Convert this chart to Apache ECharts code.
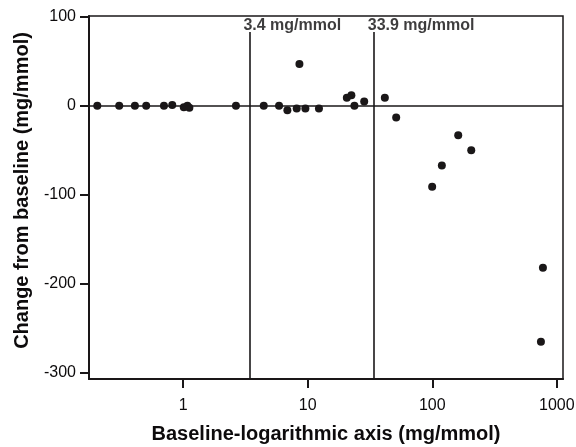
<!DOCTYPE html>
<html>
<head>
<meta charset="utf-8">
<script src="https://cdn.jsdelivr.net/npm/echarts@6/dist/echarts.min.js"></script>
<style>html,body{margin:0;padding:0;background:#fff;}#c{width:576px;height:447px;}</style>
</head>
<body>
<div id="c"></div>
<script>
const baseline = [0.204, 0.306, 0.409, 0.504, 0.70, 0.816, 1.01, 1.08, 1.12, 2.65, 4.43, 5.88, 6.86, 8.15, 8.57, 9.57, 12.3, 20.6, 22.4, 23.7, 28.4, 41.6, 51.3, 99.8, 119.4, 161.6, 205.6, 746, 774];
const change = [0, 0, 0, 0, 0, 1, -1.5, 0, -2, 0, 0, 0, -5, -3, 47, -3, -3, 9, 12, 0, 5, 9, -13, -91, -67, -33, -50, -265, -182];
const thresholds = [3.4, 33.9];
const thresholdLabels = ['3.4 mg/mmol', '33.9 mg/mmol'];
const xTicks = [1, 10, 100, 1000];
const yTicks = [-300, -200, -100, 0, 100];

const ink = '#1a1718';
const textInk = '#0d0b0c';
const font = 'Liberation Sans, Arial, Helvetica, sans-serif';
const chart = echarts.init(document.getElementById('c'));
const points = baseline.map((x, i) => [x, change[i]]);

chart.setOption({
  animation: false,
  grid: { left: 89, right: 13, top: 16, bottom: 68, containLabel: false, outerBoundsMode: 'none',
    show: true, borderColor: ink, borderWidth: 1.5, backgroundColor: 'transparent' },
  xAxis: {
    type: 'log', logBase: 10, min: 0.175, max: 1122,
    name: 'Baseline-logarithmic axis (mg/mmol)', nameLocation: 'middle', nameGap: 45,
    nameTextStyle: { fontFamily: font, fontWeight: 'bold', fontSize: 20, color: textInk },
    axisLine: { show: true, onZero: false, lineStyle: { color: ink, width: 2 } },
    axisTick: { show: true, inside: false, length: 9, lineStyle: { color: ink, width: 2 }, customValues: xTicks },
    axisLabel: { show: true, fontFamily: font, fontSize: 16, color: textInk, margin: 19, customValues: xTicks,
      formatter: v => String(Math.round(v)) },
    splitLine: { show: false }, minorTick: { show: false }
  },
  yAxis: {
    type: 'value', min: -307, max: 101,
    name: 'Change from baseline (mg/mmol)', nameLocation: 'middle', nameGap: 57, nameRotate: 90,
    nameTextStyle: { fontFamily: font, fontWeight: 'bold', fontSize: 20, color: textInk, padding: [0, 0, 0, 14] },
    axisLine: { show: true, onZero: false, lineStyle: { color: ink, width: 2 } },
    axisTick: { show: true, inside: false, length: 9, lineStyle: { color: ink, width: 2 }, customValues: yTicks },
    axisLabel: { show: true, fontFamily: font, fontSize: 16, color: textInk, margin: 13, customValues: yTicks },
    splitLine: { show: false }
  },
  series: [
    {
      type: 'scatter', data: points, symbol: 'circle', symbolSize: 8,
      itemStyle: { color: ink, opacity: 1 },
      markLine: {
        silent: true, symbol: 'none', animation: false,
        label: { show: false },
        lineStyle: { color: ink, width: 1.6, type: 'solid', opacity: 1 },
        data: [
          { yAxis: 0 },
          [{ coord: [thresholds[0], 83] }, { coord: [thresholds[0], -307] }],
          [{ coord: [thresholds[1], 83] }, { coord: [thresholds[1], -307] }]
        ]
      },
      z: 3
    },
    {
      type: 'scatter', symbolSize: 0, silent: true,
      data: thresholds.map((t, i) => ({ value: [t, 101], name: thresholdLabels[i] })),
      label: { show: true, position: [-6, 2], align: 'left', verticalAlign: 'top', formatter: p => p.name,
        fontFamily: font, fontWeight: 'bold', fontSize: 16, color: textInk }
    }
  ]
});
</script>
</body>
</html>
